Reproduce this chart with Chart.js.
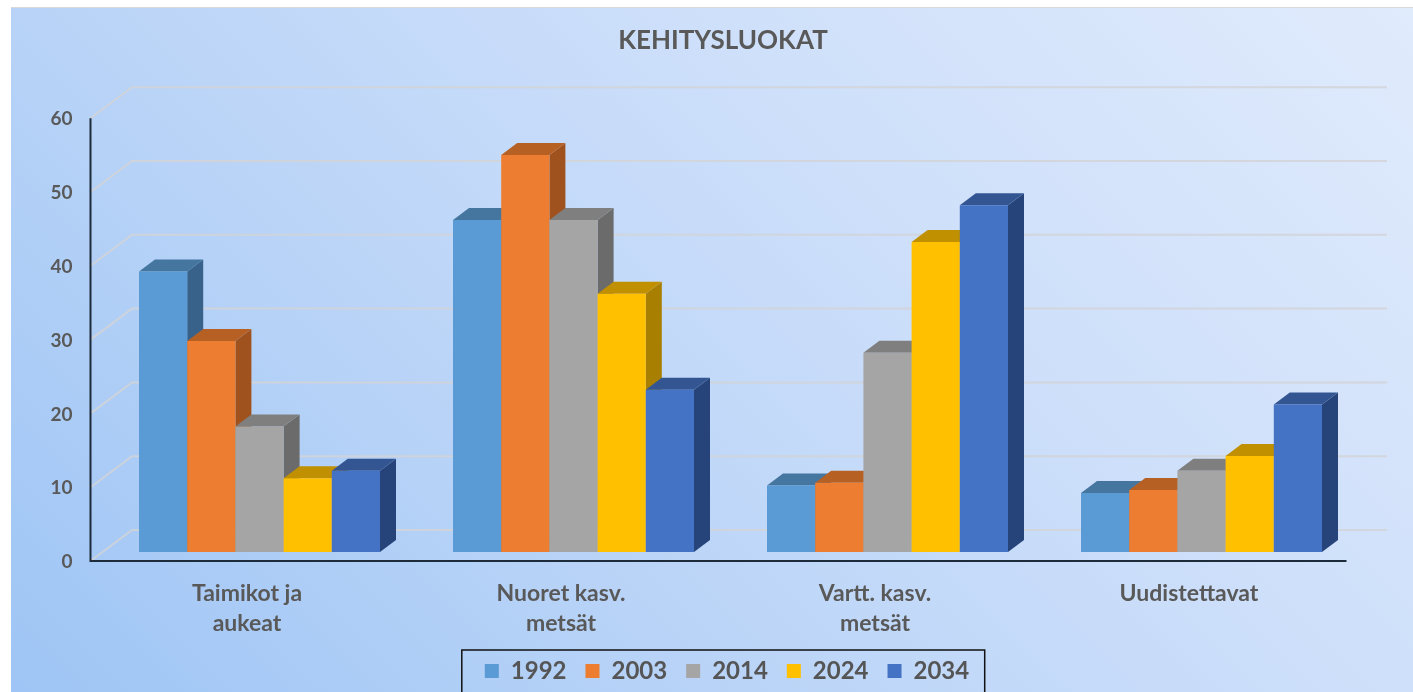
<!DOCTYPE html>
<html lang="fi">
<head>
<meta charset="utf-8">
<title>Kehitysluokat</title>
<script src="https://cdn.jsdelivr.net/npm/chart.js@4/dist/chart.umd.min.js"></script>
<style>
  html, body { margin: 0; height: 100%; background: #fff; overflow: hidden; }
  #bg {
    position: absolute; left: 11px; top: 7px; right: 0; bottom: 0;
    border-top: 1px solid #d9d9d9;
    background: linear-gradient(45deg, #9ec5f5 0%, #b8d3f7 33%, #c4daf9 50%, #cfe0fa 67%, #e0ebfc 100%);
  }
  #chart { position: absolute; left: 33px; top: 8px; }
</style>
</head>
<body>
<div id="bg"></div>
<canvas id="chart" width="1380" height="685"></canvas>
<script>
  const chartTitle = "KEHITYSLUOKAT";
  const categories = [["Taimikot ja", "aukeat"], ["Nuoret kasv.", "metsät"], ["Vartt. kasv.", "metsät"], "Uudistettavat"];
  const years = ["1992", "2003", "2014", "2024", "2034"];

  const v1992 = [38, 45, 9, 8];
  const v2003 = [28.6, 53.8, 9.4, 8.4];
  const v2014 = [17, 45, 27, 11];
  const v2024 = [10, 35, 42, 13];
  const v2034 = [11, 22, 47, 20];

  const frontColors = ["#5b9bd5", "#ed7d31", "#a5a5a5", "#ffc000", "#4472c4"];
  const topColors = ["#44769f", "#b66024", "#7f7f7f", "#c09000", "#335693"];
  const sideColors = ["#38628a", "#a0521e", "#6b6b6b", "#a87f00", "#27447a"];

  const seriesValues = [v1992, v2003, v2014, v2024, v2034];

  const TEXT = "#595959";
  const FONT = "Lato, sans-serif";

  // pseudo 3D: kaikki lasketaan skaalojen pikseleistä
  const barDx = 16, barDy = 12;
  const floorFrontDx = 12, floorFrontDy = 9;
  const wallDx = 29.5, wallDy = 22;

  const depth3d = {
    id: "depth3d",
    afterLayout(chart) {
      // alkuperäisessä selite on hieman oikealla keskilinjasta
      chart.legend.left += 4;
      chart.legend.right += 4;
      // y-akselin tekstit leikataan skaalan alueeseen, joten levennetään sitä vasemmalle
      chart.scales.y.left = 0;
    },
    beforeDatasetsDraw(chart) {
      const { ctx, chartArea } = chart;
      const y = chart.scales.y;
      ctx.save();
      ctx.strokeStyle = "rgba(210,212,215,.85)";
      ctx.lineWidth = 2;
      y.ticks.forEach(t => {
        const py = y.getPixelForValue(t.value);
        ctx.beginPath();
        ctx.moveTo(chartArea.left - floorFrontDx, py + floorFrontDy);
        ctx.lineTo(chartArea.left + wallDx, py - wallDy);
        ctx.lineTo(chartArea.right + wallDx - 1, py - wallDy);
        ctx.stroke();
      });
      // etureunan akselit
      const y0 = y.getPixelForValue(0) + floorFrontDy;
      const yTop = y.getPixelForValue(60) + floorFrontDy;
      const xL = chartArea.left - floorFrontDx;
      ctx.strokeStyle = "#1d2b3a";
      ctx.beginPath();
      ctx.moveTo(xL, yTop);
      ctx.lineTo(xL, y0);
      ctx.lineTo(chartArea.right - floorFrontDx, y0);
      ctx.stroke();
      ctx.restore();
    },
    // Chart.js piirtää viimeisen sarjan ensin, tässä tarvitaan vasemmalta oikealle
    beforeDatasetDraw() { return false; },
    afterDatasetsDraw(chart) {
      const ctx = chart.ctx;
      categories.forEach((_, i) => {
        years.forEach((_, s) => {
          const bar = chart.getDatasetMeta(s).data[i];
          const left = bar.x - bar.width / 2, right = bar.x + bar.width / 2;
          ctx.fillStyle = sideColors[s];
          ctx.beginPath();
          ctx.moveTo(right, bar.y);
          ctx.lineTo(right + barDx, bar.y - barDy);
          ctx.lineTo(right + barDx, bar.base - barDy);
          ctx.lineTo(right, bar.base);
          ctx.closePath();
          ctx.fill();
          ctx.fillStyle = topColors[s];
          ctx.beginPath();
          ctx.moveTo(left, bar.y);
          ctx.lineTo(left + barDx, bar.y - barDy);
          ctx.lineTo(right + barDx, bar.y - barDy);
          ctx.lineTo(right, bar.y);
          ctx.closePath();
          ctx.fill();
          bar.draw(ctx);
        });
      });
    },
    afterDraw(chart) {
      // selitteen kehys, alareuna jää kuvan ulkopuolelle
      const boxes = chart.legend.legendHitBoxes;
      const first = boxes[0], last = boxes[boxes.length - 1];
      const ctx = chart.ctx;
      ctx.save();
      ctx.strokeStyle = "#111";
      ctx.lineWidth = 1.5;
      ctx.strokeRect(first.left - 23, first.top - 9, last.left + last.width - first.left + 38.5, 60);
      ctx.restore();
    },
  };

  new Chart(document.getElementById("chart"), {
    type: "bar",
    data: {
      labels: categories,
      datasets: years.map((yr, s) => ({
        label: yr,
        data: seriesValues[s],
        backgroundColor: frontColors[s],
        borderWidth: 0,
      })),
    },
    plugins: [depth3d],
    options: {
      responsive: false,
      animation: false,
      devicePixelRatio: 1,
      layout: { padding: { left: 54.5, right: 54.5 } },
      datasets: { bar: { categoryPercentage: 0.7675, barPercentage: 1 } },
      plugins: {
        tooltip: { enabled: false },
        title: {
          display: true,
          text: chartTitle,
          color: TEXT,
          font: { family: FONT, size: 26, weight: "bold" },
          padding: { top: 17, bottom: 53 },
        },
        legend: {
          position: "bottom",
          labels: {
            color: "#555555",
            font: { family: FONT, size: 24, weight: "bold" },
            boxWidth: 14,
            boxHeight: 14,
            padding: 19,
          },
        },
      },
      scales: {
        x: {
          grid: { display: false, drawTicks: false },
          border: { display: false },
          ticks: {
            color: TEXT,
            padding: 26,
            labelOffset: -12.5,
            maxRotation: 0,
            font: { family: FONT, size: 23, weight: "bold", lineHeight: 1.33 },
          },
          afterFit: (s) => { s.height = 88; },
        },
        y: {
          min: 0,
          max: 60,
          grid: { display: false, drawTicks: false },
          border: { display: false },
          ticks: {
            stepSize: 10,
            color: TEXT,
            padding: 30,
            labelOffset: 10,
            font: { family: FONT, size: 19, weight: "bold" },
          },
          afterFit: (s) => { s.width = 15; },
        },
      },
    },
  });
</script>
</body>
</html>
